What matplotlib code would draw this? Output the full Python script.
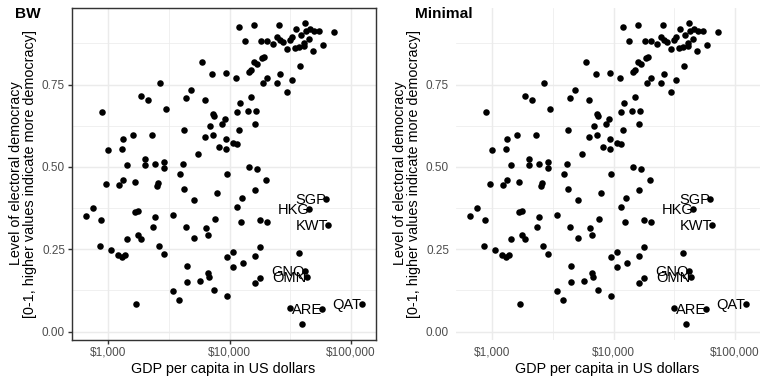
import numpy as np
import matplotlib
matplotlib.use("Agg")
import matplotlib.pyplot as plt
from matplotlib.ticker import FuncFormatter, FixedLocator, NullLocator

plt.rcParams['font.family'] = ['Liberation Sans', 'DejaVu Sans']

# GDP per capita (US dollars) and electoral democracy index
gdp = [
    11930, 15750, 25600, 35310, 41880, 42140, 45750, 49950, 54920, 72950, 38330,
    13450, 17970, 20140, 22560, 24650, 25930, 27450, 31130, 32530, 44600, 58500,
    29410, 34650, 36920, 40580, 40830, 48720,
    15950, 16780, 18450, 19150, 14330, 14880, 37850, 5888, 7113, 9390, 11275,
    20400, 25760, 18670, 24650, 32330, 29410, 2676, 4780, 1867, 2118, 4348,
    6270, 14970, 12240, 893, 2960, 7340, 7388, 11420, 14150, 16360, 9100,
    8700, 16150, 6847, 4160, 11860, 6310, 7250, 9390, 1595, 1328, 2299,
    8226, 9270, 10650, 11560, 987, 1304, 5423, 2014, 2002, 1433, 2419,
    2886, 2850, 4134, 14510, 16880, 1328, 963, 1231, 1646, 2576, 2527,
    3907, 9447, 19770, 4186, 16150, 7870, 5060, 12630, 61920, 45160, 64300,
    647, 743, 865, 1667, 1764, 2419, 3380, 11420, 7625, 4348, 2314,
    6390, 12470, 17640, 20140, 6596, 1764, 1844, 1415, 5090, 849, 1052,
    1208, 1304, 1362, 2593, 2886, 10590, 9568, 17640, 16050, 36920, 4404,
    12790, 10650, 6680, 6762, 5668, 4460, 17640, 16260, 41350, 42950, 7432,
    3380, 9447, 3785, 1699, 31320, 58140, 122400, 39070,
]
democracy = [
    0.925, 0.930, 0.932, 0.920, 0.938, 0.913, 0.918, 0.911, 0.911, 0.908, 0.901,
    0.881, 0.883, 0.881, 0.874, 0.893, 0.886, 0.880, 0.886, 0.893, 0.888, 0.871,
    0.857, 0.861, 0.863, 0.866, 0.876, 0.853,
    0.818, 0.813, 0.831, 0.835, 0.789, 0.795, 0.805, 0.818, 0.782, 0.785, 0.769,
    0.771, 0.783, 0.755, 0.756, 0.764, 0.726, 0.755, 0.732, 0.715, 0.702, 0.709,
    0.704, 0.712, 0.694, 0.668, 0.677, 0.661, 0.656, 0.666, 0.671, 0.670, 0.645,
    0.631, 0.630, 0.623, 0.611, 0.611, 0.590, 0.597, 0.585, 0.598, 0.586, 0.596,
    0.560, 0.555, 0.573, 0.570, 0.550, 0.555, 0.539, 0.525, 0.505, 0.505, 0.509,
    0.515, 0.497, 0.510, 0.500, 0.495, 0.460, 0.448, 0.446, 0.453, 0.451, 0.443,
    0.477, 0.478, 0.459, 0.432, 0.431, 0.421, 0.400, 0.406, 0.404, 0.372, 0.323,
    0.352, 0.374, 0.339, 0.362, 0.367, 0.349, 0.353, 0.379, 0.341, 0.319, 0.319,
    0.316, 0.334, 0.340, 0.334, 0.292, 0.294, 0.282, 0.280, 0.284, 0.261, 0.248,
    0.233, 0.228, 0.234, 0.260, 0.236, 0.241, 0.228, 0.257, 0.229, 0.239, 0.200,
    0.208, 0.195, 0.177, 0.167, 0.154, 0.150, 0.163, 0.147, 0.184, 0.165, 0.125,
    0.122, 0.109, 0.095, 0.085, 0.072, 0.069, 0.085, 0.022,
]

label_codes = ["SGP", "HKG", "KWT", "GNQ", "OMN", "ARE", "QAT"]
label_gdp = [61920, 45160, 64300, 41350, 42950, 58140, 122400]
label_dem = [0.404, 0.372, 0.323, 0.184, 0.165, 0.069, 0.085]

x_breaks = [1000, 10000, 100000]
x_minor = [10 ** 3.5, 10 ** 4.5]
y_breaks = [0.00, 0.25, 0.50, 0.75]
y_minor = [0.125, 0.375, 0.625, 0.875]

titles = ["BW", "Minimal"]
xlab = "GDP per capita in US dollars"
ylab = "Level of electoral democracy\n[0-1, higher values indicate more democracy]"

W, H = 768, 384
fig = plt.figure(figsize=(8, 4), dpi=96)

lg = np.log10(gdp)
xlo, xhi = lg.min(), lg.max()
xp = 0.05 * (xhi - xlo)
ylo, yhi = min(democracy), max(democracy)
yp = 0.05 * (yhi - ylo)

grid_col = "#EBEBEB"
for i, title in enumerate(titles):
    off = i * 384
    left = (71.7 + off) / W
    ax = fig.add_axes([left, 1 - 339.5 / H, (375.5 - 71.7) / W, (339.5 - 7.5) / H])
    ax.set_xscale("log")
    ax.set_xlim(10 ** (xlo - xp), 10 ** (xhi + xp))
    ax.set_ylim(ylo - yp, yhi + yp)
    for v in x_minor:
        ax.axvline(v, color=grid_col, lw=0.55, zorder=0)
    for v in y_minor:
        ax.axhline(v, color=grid_col, lw=0.55, zorder=0)
    for v in x_breaks:
        ax.axvline(v, color=grid_col, lw=1.07, zorder=0)
    for v in y_breaks:
        ax.axhline(v, color=grid_col, lw=1.07, zorder=0)
    ax.scatter(gdp, democracy, s=24, color="black", linewidths=0, zorder=3)
    for code, gx, dy in zip(label_codes, label_gdp, label_dem):
        ax.annotate(code, (gx, dy), xytext=(0, -3.9), textcoords="offset points",
                    ha="right", va="baseline", fontsize=11, color="black", zorder=4)
    ax.xaxis.set_major_locator(FixedLocator(x_breaks))
    ax.xaxis.set_minor_locator(NullLocator())
    ax.yaxis.set_major_locator(FixedLocator(y_breaks))
    ax.yaxis.set_minor_locator(NullLocator())
    ax.xaxis.set_major_formatter(FuncFormatter(lambda v, p: "${:,.0f}".format(v)))
    ax.yaxis.set_major_formatter(FuncFormatter(lambda v, p: "{:.2f}".format(v)))
    ax.set_facecolor("white")
    if i == 0:
        for s in ax.spines.values():
            s.set_color("#333333")
            s.set_linewidth(1.07)
        ax.tick_params(axis="both", which="major", length=2.75, width=1.07,
                       color="#333333", labelcolor="#4D4D4D", labelsize=8.8, pad=2.2)
    else:
        for s in ax.spines.values():
            s.set_visible(False)
        ax.tick_params(axis="both", which="major", length=2.75, width=0,
                       color="none", labelcolor="#4D4D4D", labelsize=8.8, pad=2.2)
    cx = (71.7 + 375.5) / 2 + off
    fig.text(cx / W, 1 - 373.3 / H, xlab, ha="center", va="baseline", fontsize=10.8)
    fig.text((23 + off) / W, 1 - 173.5 / H, ylab, rotation=90, ha="center",
             va="center", multialignment="center", fontsize=10.8, linespacing=1.0)
    tx = 15 if i == 0 else 30.7
    fig.text((tx + off) / W, 1 - 17.5 / H, title, ha="left", va="baseline",
             fontsize=11.5, fontweight="bold")

fig.savefig("out.png", dpi=96)
